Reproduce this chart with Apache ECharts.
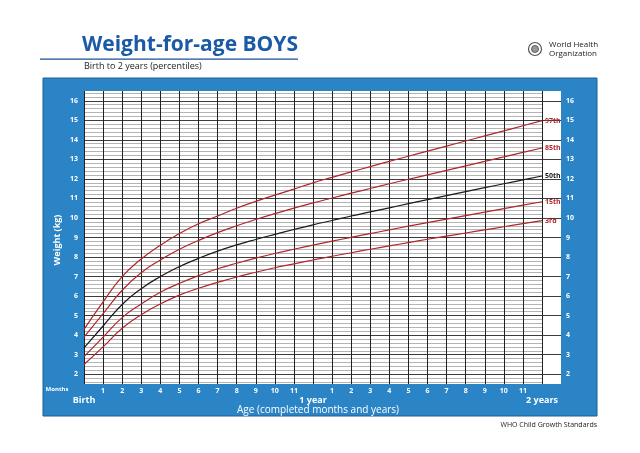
<!DOCTYPE html>
<html>
<head>
<meta charset="utf-8">
<script src="https://cdn.jsdelivr.net/npm/echarts@6/dist/echarts.min.js"></script>
<style>
html,body{margin:0;padding:0;background:#fff;}
#c{width:640px;height:453px;}
</style>
</head>
<body>
<div id="c"></div>
<script>
// Age in completed months (0 = birth, 12 = 1 year, 24 = 2 years)
const months = [0,1,2,3,4,5,6,7,8,9,10,11,12,13,14,15,16,17,18,19,20,21,22,23,24];
// Weight (kg) percentiles
const p97 = [4.3,5.7,7.0,7.9,8.6,9.2,9.7,10.1,10.5,10.85,11.17,11.48,11.8,12.08,12.36,12.63,12.9,13.16,13.42,13.68,13.94,14.2,14.46,14.72,14.98];
const p85 = [3.9,5.1,6.3,7.2,7.85,8.4,8.85,9.25,9.6,9.92,10.22,10.5,10.77,11.02,11.27,11.51,11.75,11.98,12.21,12.44,12.67,12.9,13.13,13.36,13.58];
const p50 = [3.35,4.47,5.57,6.38,7.0,7.51,7.93,8.3,8.62,8.9,9.16,9.41,9.65,9.87,10.1,10.31,10.52,10.73,10.94,11.14,11.35,11.55,11.75,11.95,12.15];
const p15 = [2.9,3.9,4.9,5.6,6.2,6.65,7.05,7.4,7.68,7.94,8.18,8.4,8.61,8.81,9.01,9.2,9.39,9.58,9.76,9.94,10.12,10.3,10.48,10.66,10.83];
const p3  = [2.5,3.4,4.35,5.05,5.6,6.05,6.4,6.7,6.98,7.22,7.45,7.65,7.85,8.04,8.22,8.4,8.57,8.74,8.91,9.07,9.23,9.39,9.55,9.71,9.86];
const seriesNames = ['97th','85th','50th','15th','3rd'];
const seriesValues = [p97,p85,p50,p15,p3];
const seriesColors = ['#b0262b','#b0262b','#1a1a1a','#b0262b','#b0262b'];
// year labels on the age axis
const yearTicks = {0:'Birth', 12:'1 year', 24:'2 years'};

const chart = echarts.init(document.getElementById('c'));
const FONT = '"Open Sans", "Noto Sans", sans-serif';
const BLUE = '#2a84c5';
const isInt = v => Math.abs(v - Math.round(v)) < 1e-6;

// split line colour cycle for 0.1 kg ticks starting at 1.5 kg:
// integer -> dark, even tenths -> grey, odd tenths -> none
const N = 'rgba(0,0,0,0)', G = '#b4b4b4', D = '#3c3c3c';
const fullCycle = [N,G,N,G,N,D,N,G,N,G];
const intCycle  = [N,N,N,N,N,D,N,N,N,N];

function yAxisCfg(gridIndex, position, cycle) {
  return {
    type:'value', gridIndex, position, min:1.5, max:16.5, interval:0.1,
    axisLine:{show:false}, axisTick:{show:false},
    axisLabel:{show:true, interval:0, margin: position==='left'?6:5, color:'#fff', fontSize:7, fontWeight:'bold', fontFamily:FONT,
      formatter: v => isInt(v) ? String(Math.round(v)) : ''},
    splitLine:{show:true, lineStyle:{color:cycle, width:1}}
  };
}

const option = {
  animation:false,
  backgroundColor:'#fff',
  graphic:[
    {type:'rect', z:-10, shape:{x:43,y:78,width:554,height:338}, style:{fill:BLUE, stroke:'#1d5f95', lineWidth:1}},
    {type:'text', x:190, y:45, style:{text:'Weight-for-age BOYS', fill:'#1b5aa6', font:'bold 21px '+FONT, align:'center', verticalAlign:'middle'}},
    {type:'rect', shape:{x:40,y:58.5,width:258,height:1.2}, style:{fill:'#1b4f96'}},
    {type:'text', x:84, y:66, style:{text:'Birth to 2 years (percentiles)', fill:'#222', font:'9px '+FONT, align:'left', verticalAlign:'middle'}},
    {type:'circle', shape:{cx:535, cy:49, r:6.5}, style:{fill:'#fff', stroke:'#555', lineWidth:1.2}},
    {type:'circle', shape:{cx:535, cy:49, r:3.5}, style:{fill:'#999', stroke:'#444', lineWidth:0.8}},
    {type:'text', x:549, y:45, style:{text:'World Health', fill:'#222', font:'8px '+FONT, align:'left', verticalAlign:'middle'}},
    {type:'text', x:549, y:54, style:{text:'Organization', fill:'#222', font:'8px '+FONT, align:'left', verticalAlign:'middle'}},
    {type:'text', x:57, y:240, rotation:Math.PI/2, style:{text:'Weight (kg)', fill:'#fff', font:'bold 9px '+FONT, align:'center', verticalAlign:'middle'}},
    {type:'text', x:57, y:389, style:{text:'Months', fill:'#fff', font:'bold 6px '+FONT, align:'center', verticalAlign:'middle'}},
    {type:'text', x:318, y:410, style:{text:'Age (completed months and years)', fill:'#fff', font:'10px '+FONT, align:'center', verticalAlign:'middle'}},
    {type:'text', x:597, y:425, style:{text:'WHO Child Growth Standards', fill:'#222', font:'7px '+FONT, align:'right', verticalAlign:'middle'}}
  ],
  grid:[
    {left:84, top:91, width:458, height:293, show:true, backgroundColor:'#fff', borderWidth:0},
    {left:542, top:91, width:19, height:293, show:true, backgroundColor:'#fff', borderWidth:0}
  ],
  xAxis:[
    {type:'value', gridIndex:0, min:0, max:24, interval:1,
      axisLine:{show:false}, axisTick:{show:false},
      splitLine:{show:true, lineStyle:{color:'#222', width:1}},
      axisLabel:{show:true, margin:3, color:'#fff', fontSize:7, fontWeight:'bold', fontFamily:FONT,
        showMinLabel:true, showMaxLabel:true, hideOverlap:false,
        formatter: v => { const r = Math.round(v); return (r % 12 === 0) ? '' : String(r % 12); }}
    },
    {type:'value', gridIndex:0, position:'bottom', offset:10, min:0, max:24, interval:12,
      axisLine:{show:false}, axisTick:{show:false}, splitLine:{show:false},
      axisLabel:{show:true, margin:2, color:'#fff', fontSize:9, fontWeight:'bold', fontFamily:FONT,
        showMinLabel:true, showMaxLabel:true, hideOverlap:false,
        formatter: v => yearTicks[Math.round(v)] || ''}
    },
    {type:'value', gridIndex:1, min:24, max:25, show:false, splitLine:{show:false}}
  ],
  yAxis:[
    yAxisCfg(0,'left',fullCycle),
    yAxisCfg(1,'right',intCycle)
  ],
  series: seriesNames.map((name,i) => ({
    type:'line', name, xAxisIndex:0, yAxisIndex:0,
    data: months.map((m,j) => [m, seriesValues[i][j]]),
    smooth:true, symbol:'none', z:5,
    lineStyle:{color:seriesColors[i], width:1.2},
    endLabel:{show:true, formatter:name, distance:3, color:seriesColors[i], fontSize:7, fontWeight:'bold', fontFamily:FONT}
  }))
};
chart.setOption(option);
</script>
</body>
</html>
